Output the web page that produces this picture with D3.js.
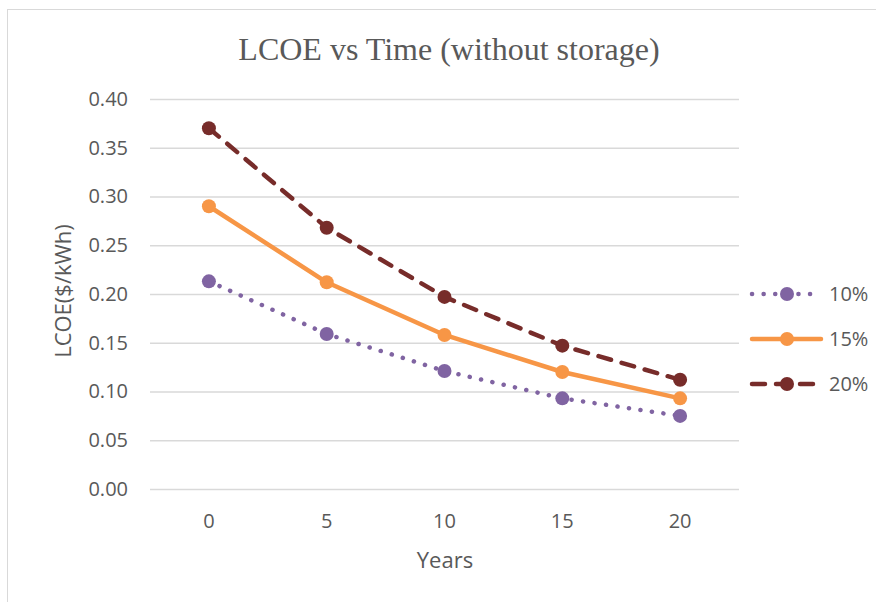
<!DOCTYPE html>
<html>
<head>
<meta charset="utf-8">
<script src="https://cdn.jsdelivr.net/npm/d3@7"></script>
<style>
  html, body { margin: 0; padding: 0; background: #fff; }
  svg { display: block; }
</style>
</head>
<body>
<svg id="chart" width="876" height="602"></svg>
<script>
// LCOE over time for three discount rates (no storage)
const years = ["0", "5", "10", "15", "20"];
const seriesNames = ["10%", "15%", "20%"];
const rate10 = [0.213, 0.159, 0.121, 0.093, 0.075];
const rate15 = [0.290, 0.212, 0.158, 0.120, 0.093];
const rate20 = [0.370, 0.268, 0.197, 0.147, 0.112];
const yTicks = [0, 0.05, 0.10, 0.15, 0.20, 0.25, 0.30, 0.35, 0.40];

const colors = ["#8064A2", "#F79646", "#772C2A"];
const dashes = ["0.1 11.5", null, "13 11"];
const values = [rate10, rate15, rate20];

const svg = d3.select("#chart");
const textColor = "#595959";
const labelFont = "'Open Sans', 'Noto Sans', sans-serif";

// chart area frame
svg.append("rect")
  .attr("x", 7.5).attr("y", 9.5)
  .attr("width", 900).attr("height", 700)
  .attr("fill", "#fff")
  .attr("stroke", "#d9d9d9").attr("stroke-width", 1);

const plot = { left: 150, right: 739, top: 99, bottom: 489 };

const x = d3.scaleBand().domain(years).range([plot.left, plot.right]);
const y = d3.scaleLinear().domain([0, 0.4]).range([plot.bottom, plot.top]);

// title
svg.append("text")
  .attr("x", 449).attr("y", 60)
  .attr("text-anchor", "middle")
  .attr("font-family", "'Liberation Serif', 'Times New Roman', serif")
  .attr("font-size", 32)
  .attr("fill", textColor)
  .text("LCOE vs Time (without storage)");

// gridlines and value labels
const yAxis = d3.axisLeft(y).tickValues(yTicks).tickFormat(d3.format(".2f"))
  .tickSize(-(plot.right - plot.left)).tickPadding(22);
const gy = svg.append("g")
  .attr("transform", `translate(${plot.left},0)`)
  .call(yAxis);
gy.select(".domain").remove();
gy.selectAll(".tick line").attr("stroke", "#d9d9d9").attr("stroke-width", 1.3);
gy.selectAll(".tick text")
  .attr("fill", textColor)
  .attr("font-family", labelFont)
  .attr("font-size", 20);

// x axis labels
const xAxis = d3.axisBottom(x).tickSize(0).tickPadding(25);
const gx = svg.append("g")
  .attr("transform", `translate(0,${plot.bottom})`)
  .call(xAxis);
gx.select(".domain").remove();
gx.selectAll(".tick text")
  .attr("fill", textColor)
  .attr("font-family", labelFont)
  .attr("font-size", 20);

// axis titles
svg.append("text")
  .attr("x", 445).attr("y", 568)
  .attr("text-anchor", "middle")
  .attr("font-family", labelFont)
  .attr("font-size", 22)
  .attr("fill", textColor)
  .text("Years");

svg.append("text")
  .attr("transform", "translate(71,291) rotate(-90)")
  .attr("text-anchor", "middle")
  .attr("font-family", labelFont)
  .attr("font-size", 22)
  .attr("fill", textColor)
  .text("LCOE($/kWh)");

// series lines and markers
const line = d3.line()
  .x((d, i) => x(years[i]) + x.bandwidth() / 2)
  .y(d => y(d));

seriesNames.forEach((name, s) => {
  const g = svg.append("g");
  g.append("path")
    .datum(values[s])
    .attr("d", line)
    .attr("fill", "none")
    .attr("stroke", colors[s])
    .attr("stroke-width", 4.5)
    .attr("stroke-linecap", "round")
    .attr("stroke-linejoin", "round")
    .attr("stroke-dasharray", dashes[s]);
  g.selectAll("circle")
    .data(values[s])
    .join("circle")
    .attr("cx", (d, i) => x(years[i]) + x.bandwidth() / 2)
    .attr("cy", d => y(d))
    .attr("r", 7)
    .attr("fill", colors[s]);
});

// legend
const legendRows = [294, 339, 384];
seriesNames.forEach((name, s) => {
  const g = svg.append("g").attr("transform", `translate(0,${legendRows[s]})`);
  g.append("line")
    .attr("x1", 752).attr("x2", 821)
    .attr("y1", 0).attr("y2", 0)
    .attr("stroke", colors[s])
    .attr("stroke-width", 4.5)
    .attr("stroke-linecap", "round")
    .attr("stroke-dasharray", dashes[s]);
  g.append("circle")
    .attr("cx", 787).attr("cy", 0).attr("r", 7)
    .attr("fill", colors[s]);
  g.append("text")
    .attr("x", 829).attr("y", 0)
    .attr("dy", "0.35em")
    .attr("font-family", labelFont)
    .attr("font-size", 20)
    .attr("fill", textColor)
    .text(name);
});
</script>
</body>
</html>
